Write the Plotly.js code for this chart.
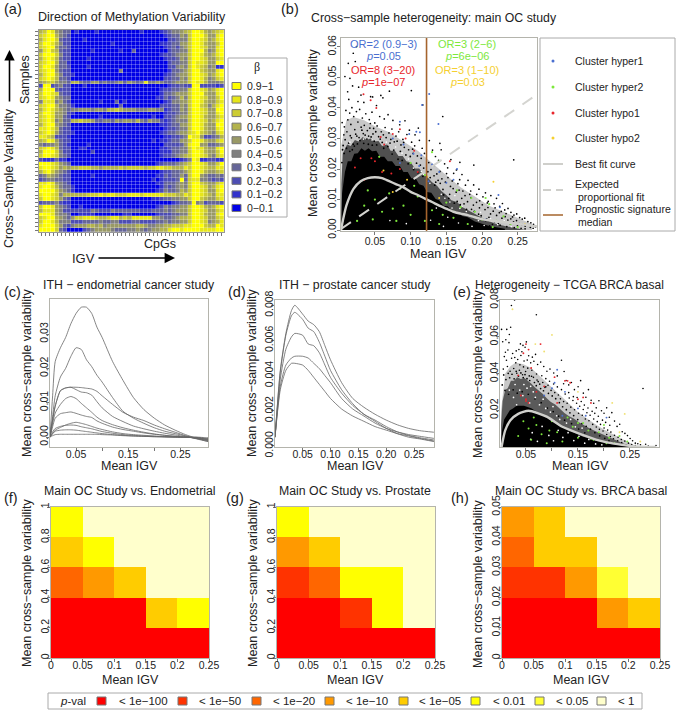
<!DOCTYPE html>
<html>
<head>
<meta charset="utf-8">
<script src="https://cdn.plot.ly/plotly-3.0.1.min.js"></script>
<style>html,body{margin:0;padding:0;background:#fff}</style>
</head>
<body>
<div id="chart" style="width:678px;height:712px"></div>
<script>
// panel (a): beta decile per cell, one string per sample, top row first
var methRows = [
"67985433 010000100000000001000012 344567 99865678",
"78996432 000000000000000000000001 233547 99975589",
"68997322 000100000000000000000000 223447 99875689",
"79986422 000000000010000000000011 233557 99865579",
"78995332 000000000000000000000001 232457 99875589",
"58976322 000001000000100300000000 233447 99964589",
"79997422 000000000000000000000012 234557 99865689",
"68986322 000010000000000000000001 223547 99875578",
"78996331 000000000000000000000000 233447 98875599",
"79985332 000010000000000000000000 224547 98764511",
"78995322 000000000000400000000000 133457 99765589",
"68996422 100000000000000000000001 234557 99875689",
"78986332 000000000000000000000002 233547 99864578",
"56775443 664335534334535434844543 345557 98864445",
"29923422 000100000000000000000000 122322 99222212",
"69993222 000000000000000000000012 233447 99875689",
"79987322 000000000000000000000013 345557 99965589",
"78985433 000000000000000000000113 234647 99875579",
"48884532 000000010003010000000001 244557 99865578",
"78996443 100000000000300000000022 233547 99764689",
"68986543 445554554667655544455441 233547 99875599",
"79985542 100000000000000000000001 223447 99875589",
"78985532 000000010000000000001002 234557 99865578",
"78984533 667665334435455464354421 234447 99875689",
"68995432 000000000000000000000011 233557 99865599",
"88986322 000000000000000000000001 223447 99865589",
"78985322 100000000000000000000012 334557 89765478",
"88762221 000000000000000000000001 122349 88522346",
"67985322 000000000000000000001011 233557 99865578",
"43445321 000010000000000000000002 222358 99553345",
"78986322 001100000000000000000011 233447 98865589",
"69997422 000002000000000000000011 133447 99865579",
"79987432 000000000000000000000012 234567 99875478",
"21113110 000000000000000000000000 000124 98112211",
"99987543 000000000000000000000123 334567 99875579",
"89987565 667776656666767777677887 766687 99876688",
"68975432 000000000000000000000012 233457 99865567",
"34654322 000001000000000000000113 233537 99543343",
"23443322 000000000000000000001012 223937 88443232",
"88985432 000000000000000000000113 334547 99765578",
"89986433 100000000000000000000013 234547 99875689",
"99997543 100000000000000000000124 334657 99875589",
"89987466 666677787887778887888887 776687 99876588",
"79987532 000000000000000000001123 344557 99765578",
"23334211 000000000000000000000000 012334 94523332",
"79985432 001000000000000000000124 344557 99865689",
"68885422 222224322243333332223334 345557 99875578",
"99985443 001111000000011000000122 233447 99865589",
"78996543 577888766788676888885543 345667 99875578",
"79986444 222333343344222332222334 344557 99874568",
"89997532 455566564555555566544556 677788 99976698",
"99997320 000234555543334454345566 899899 99888899"
];
var betaLabels = ["0.9−1","0.8−0.9","0.7−0.8","0.6−0.7","0.5−0.6","0.4−0.5","0.3−0.4","0.2−0.3","0.1−0.2","0−0.1"];
var betaColors = ["#ffff00","#e6e61a","#cccc33","#b3b34d","#999966","#808080","#666699","#4d4db3","#3333cc","#0000e6"];

// panel (b)
var bCurveX = [.0025,.005,.01,.02,.03,.04,.05,.06,.07,.08,.09,.10,.11,.12,.13,.14,.15,.16,.17,.18,.19,.20,.22,.24,.26,.277];
var bCurveY = [0,.003,.008,.0135,.016,.017,.0173,.017,.016,.015,.014,.0125,.0115,.0103,.0092,.008,.007,.006,.0054,.0049,.0042,.0036,.0029,.0024,.0018,.0012];
var bPropX = [.0025,.277];
var bPropY = [.0004,.0444];
var bMedian = .1223;
var bCoreX = [.003,.004,.008,.012,.017,.021,.026,.031,.036,.041,.046,.052,.057,.063,.068,.074,.079,.085,.09,.096,.101,.107,.112,.118,.123,.129,.135,.14,.146,.152,.158,.165,.172,.18,.19,.2,.21,.22,.232,.232,.003];
var bCoreY = [.003,.012,.019,.0225,.0225,.025,.0252,.0268,.026,.0268,.0258,.026,.024,.024,.0225,.0225,.021,.021,.019,.019,.017,.017,.015,.0145,.0125,.0122,.0102,.0098,.008,.0078,.0062,.006,.0046,.0042,.0028,.0021,.0013,.0009,.0004,0,0];
var bMidX = [.003,.005,.011,.016,.022,.027,.033,.038,.044,.049,.055,.06,.067,.072,.078,.083,.089,.094,.1,.106,.112,.118,.124,.13,.137,.143,.15,.157,.165,.172,.18,.19,.2,.21,.22,.235,.25,.26,.003];
var bMidY = [.015,.025,.028,.0275,.0295,.029,.0305,.0295,.030,.029,.0292,.0275,.028,.026,.026,.0243,.0243,.0225,.0222,.0202,.0202,.0182,.0172,.0157,.0145,.0128,.0115,.0098,.0092,.0076,.0066,.0052,.004,.0029,.002,.0012,.0005,0,0];
var bOuterX = [.003,.01,.02,.035,.05,.07,.09,.11,.13,.15,.17,.19,.21,.24,.27,.27,.003];
var bOuterY = [.028,.036,.037,.036,.034,.032,.029,.026,.022,.018,.014,.011,.008,.005,.002,0,0];
var bBlack = [[.0197,.0579],[.0243,.0601],[.0127,.0546],[.008,.0503],[.015,.0497],[.0225,.0552],[.0187,.0472],[.0272,.0468],[.0118,.0453],[.0134,.0428],[.0263,.0421],[.0305,.0442],[.0345,.0418],[.044,.0437],[.0468,.0436],[.0522,.0408],[.0583,.0441],[.0612,.0433],[.0703,.0455],[.101,.0457],[.117,.041],[.145,.0372],[.141,.0284],[.169,.0222],[.1885,.0213],[.2444,.023],[.0094,.0392],[.0147,.0383],[.0178,.0401],[.0203,.0372],[.0241,.0388],[.0286,.0395],[.0324,.0367],[.0372,.0381],[.0421,.0362],[.0459,.0386],[.0498,.0351],[.0567,.0372],[.0631,.0364],[.0684,.0378],[.0752,.0359],[.0847,.0345],[.0921,.0358],[.0983,.0327],[.1062,.0312],[.1108,.0334],[.0041,.0352],[.0072,.0338],[.0121,.0361],[.0163,.0346],[.0218,.0329],[.0262,.0354],[.0307,.0337],[.0351,.0343],[.0394,.0326],[.0436,.0349],[.0482,.0333],[.0531,.0341],[.0589,.0322],[.0643,.0336],[.0697,.0318],[.0738,.0331],[.0795,.0308],[.0833,.0322],[.0892,.0297],[.0948,.0313],[.1014,.0288],[.1057,.0276],[.1123,.0294],[.1162,.0268],[.1194,.0251],[.0065,.0312],[.0108,.0322],[.0155,.0309],[.0231,.0314],[.0278,.0303],[.0337,.0316],[.0412,.0308],[.0473,.0315],[.0552,.0306],[.0618,.0312],[.0723,.0297],[.0771,.0289],[.0865,.0279],[.0912,.0271],[.0972,.0263],[.1035,.0251],[.1095,.0243],[.1148,.0235],
[.1262,.0293],[.1307,.0262],[.1348,.0241],[.1392,.0228],[.1428,.0263],[.1476,.0217],[.1519,.0204],[.1564,.0231],[.1603,.0186],[.1642,.0197],[.1687,.0165],[.1719,.0182],[.1768,.0147],[.1804,.0163],[.1841,.0128],[.1883,.0148],[.1926,.0117],[.1957,.0134],[.2013,.0109],[.2048,.0122],[.2087,.0094],[.2124,.0113],[.2168,.0086],[.2203,.0104],[.2247,.0078],[.2286,.0087],[.2318,.0066],[.2364,.0071],[.2405,.0058],[.2447,.0049],[.2486,.0053],[.2527,.0041],[.2563,.0036],[.2598,.0039],[.2642,.0028],[.2684,.0024],[.2721,.0019],[.2752,.0012],
[.1254,.0221],[.1285,.0198],[.1326,.0212],[.1367,.0184],[.1411,.0192],[.1438,.0168],[.1487,.0157],[.1523,.0172],[.1558,.0143],[.1596,.0136],[.1638,.0124],[.1679,.0131],[.1716,.0104],[.1762,.0113],[.1797,.0093],[.1846,.0106],[.1879,.0082],[.1923,.0091],[.1964,.0073],[.2004,.0083],[.2042,.0067],[.2083,.0074],[.2119,.0053],[.2157,.0062],[.2204,.0048],[.2243,.0057],[.2279,.0039],[.2324,.0044],[.2362,.0033],[.2403,.0037],[.2441,.0027],[.2483,.0031],[.2522,.0021],[.2558,.0019],[.2604,.0013],[.2638,.0016],[.2677,.0009],[.2716,.0006],[.2748,.0011],
[.2052,.0031],[.2097,.0042],[.2146,.0019],[.2192,.0029],[.2253,.0016],[.2298,.0026],[.2347,.0011],[.2396,.0021],[.2452,.0008],[.2496,.0014],[.2547,.0006],[.2603,.0004],[.1952,.0052],[.1853,.0068],[.1748,.0086],[.1652,.0094],[.1547,.0117],[.1453,.0133],[.1352,.0157],[.2107,.0014],[.2003,.0006],[.1908,.0018],[.1503,.0185],[.1415,.0153],[.1732,.0128],[.1828,.0117],[.1967,.0096],[.2074,.0089],[.2183,.0073],[.2269,.0061],[.2337,.0054],[.2427,.0043],[.1662,.0152],[.1583,.0161],[.1328,.0178]];
var bEdge = [[.0055,.0277],[.0083,.0296],[.0132,.0285],[.0171,.0302],[.0196,.0281],[.0247,.0308],[.0291,.0293],[.0318,.0327],[.0363,.0311],[.0388,.0298],[.0429,.0334],[.0447,.0305],[.0491,.0291],[.0512,.0322],[.0574,.0298],[.0602,.0287],[.0657,.0303],[.0681,.0274],[.0712,.0285],[.0764,.0262],[.0811,.0291],[.0856,.0258],[.0903,.0287],[.0934,.0246],[.0995,.0241],[.1028,.0265],[.1083,.0219],[.1136,.0213],[.1183,.0203],[.1241,.0191],[.1274,.0172],[.1338,.0147],[.1385,.0163],[.1462,.0115],[.1534,.0104],[.1612,.0088],[.1695,.0083],[.1783,.0068],[.1892,.0061],[.1988,.0047],[.2066,.0036],[.2173,.0028],[.2228,.0021],
[.0038,.0221],[.0047,.0263],[.0069,.0251],[.0102,.0268],[.0148,.0258],[.0183,.0263],[.0212,.0275],[.0255,.0282],[.0343,.0284],[.0408,.0281],[.0463,.0278],[.0525,.0279],[.0623,.0268],[.0741,.0249],[.0824,.0232],[.0882,.0228],[.0965,.0217],[.1042,.0198],[.1103,.0188],[.1172,.0176]];
var bWhite = [[.152,.0042],[.167,.0023],[.178,.0061],[.186,.0012],[.195,.0031],[.203,.0015],[.212,.0037],[.222,.0018],[.231,.0031],[.241,.0011],[.158,.0072],[.172,.0078],[.185,.0045],[.198,.0058],[.214,.0029],[.146,.0012],[.128,.0032],[.136,.0072],[.148,.0104],[.162,.0113],[.104,.0203],[.118,.0182],[.097,.0233],[.071,.0031],[.094,.0021],[.015,.0288],[.034,.0298],[.046,.0295],[.066,.0288],[.079,.0272],[.088,.0252],[.115,.0192],[.127,.0153],[.143,.0117],[.155,.0092],[.169,.0071]];
var bBlue = [[.126,.0446],[.116,.041],[.139,.0347],[.108,.0322],[.098,.0315],[.085,.0355],[.113,.032],[.075,.03],[.09,.028],[.104,.025],[.115,.0245],[.13,.0215],[.14,.019],[.15,.0155],[.16,.0165],[.112,.021],[.085,.022],[.223,.0115],[.225,.0075],[.205,.0035],[.165,.02],[.125,.016]];
var bGreen = [[.13,.0255],[.14,.0225],[.1,.022],[.12,.018],[.085,.0135],[.04,.013],[.035,.008],[.05,.01],[.06,.006],[.07,.012],[.08,.003],[.09,.008],[.1,.005],[.11,.011],[.12,.003],[.13,.0065],[.14,.002],[.15,.009],[.16,.004],[.17,.0075],[.18,.002],[.19,.006],[.2,.0035],[.21,.0085],[.22,.003],[.23,.0045],[.24,.002],[.25,.001],[.025,.003],[.047,.0035],[.075,.007],[.105,.0145],[.165,.013],[.185,.0105],[.205,.0105],[.215,.001],[.056,.024],[.16,.006],[.145,.005]];
var bRed = [[.034,.0445],[.044,.0425],[.052,.04],[.03,.0235],[.045,.0235],[.05,.0225],[.075,.0315],[.085,.033],[.093,.03],[.058,.0305],[.063,.028],[.022,.0205],[.073,.0185],[.085,.02],[.105,.026],[.155,.0225],[.035,.0165],[.11,.019],[.06,.019]];
var bYellow = [[.216,.0158],[.062,.0195],[.26,.002],[.123,.0175],[.075,.0125],[.14,.0105],[.095,.0165]];

// panel (c): intra-tumour curves on a shared x grid
var cX = [0,.005,.01,.02,.03,.04,.05,.06,.07,.08,.09,.10,.12,.14,.16,.18,.20,.22,.24,.26,.28,.30,.303];
var cCurves = [
[0,.012,.022,.026,.029,.033,.036,.0378,.0378,.036,.032,.029,.022,.0165,.0115,.008,.0055,.0035,.002,.0007,-.0003,-.0012,-.0013],
[0,.006,.012,.0175,.02,.0235,.026,.0255,.0225,.0205,.018,.016,.0115,.0075,.0055,.004,.0027,.0017,.001,.0003,-.0004,-.001,-.0011],
[0,.005,.009,.0135,.0143,.0145,.0145,.0144,.0142,.014,.0133,.012,.0095,.0072,.0058,.0048,.0035,.0024,.0014,.0004,-.0005,-.0012,-.0013],
[0,.005,.009,.0135,.0143,.0145,.0138,.0131,.0129,.0122,.0103,.0085,.006,.0045,.0032,.0024,.0017,.0011,.0006,.0001,-.0004,-.0009,-.001],
[0,.004,.007,.0095,.0112,.0118,.0112,.0098,.0085,.0072,.0058,.0048,.0036,.0027,.002,.0014,.0009,.0005,.0002,0,-.0003,-.0008,-.0009],
[0,.003,.0055,.0068,.0071,.0073,.0069,.0064,.006,.0057,.0047,.004,.0029,.0022,.0017,.0012,.0008,.0005,.0002,0,-.0002,-.0007,-.0008],
[0,.001,.002,.0028,.0035,.004,.0043,.004,.0036,.0031,.0026,.0022,.0015,.001,.0007,.0005,.0003,.0001,0,-.0001,-.0002,-.0006,-.0007],
[0,.0015,.0025,.0031,.0034,.0035,.0034,.003,.0027,.0024,.002,.0016,.0011,.0007,.0005,.0003,.0002,.0001,0,-.0001,-.0002,-.0005,-.0005],
[0,.001,.0017,.002,.0021,.0021,.002,.0018,.0016,.0014,.0012,.001,.0007,.0005,.0003,.0002,.0001,0,0,-.0001,-.0001,-.0004,-.0004],
[0,.0004,.0007,.0008,.0008,.0008,.0008,.0008,.0008,.0008,.0008,.0007,.0006,.0004,.0003,.0002,.0001,.0001,0,0,0,-.0002,-.0002]
];

// panel (d)
var dX = [.0005,.01,.02,.03,.036,.05,.06,.07,.08,.09,.10,.12,.14,.16,.18,.20,.22,.24,.26,.2855];
var dCurves = [
[.0005,.0043,.0064,.0077,.008,.0075,.0071,.0069,.0065,.0057,.0049,.0036,.0027,.0022,.0018,.00147,.0012,.001,.00087,.00078],
[.0005,.0042,.0063,.0074,.0076,.0072,.0067,.0065,.0059,.0051,.0043,.0032,.0024,.0018,.00147,.0011,.0008,.0006,.00047,.00034],
[.0005,.0038,.0055,.0062,.0064,.0063,.0058,.0057,.0053,.0046,.0039,.003,.0023,.0018,.0014,.001,.0007,.0005,.0004,.00025],
[.0005,.0034,.0046,.005,.0051,.0051,.005,.0047,.0044,.004,.0036,.0027,.0021,.0017,.0013,.001,.0008,.00065,.00055,.00043],
[.0005,.0032,.0043,.0047,.0047,.0046,.0043,.0039,.0035,.0031,.0027,.0021,.0017,.0014,.0011,.0009,.0007,.00057,.00043,.00028]
];

// panel (e)
var eCurveX = [.003,.01,.02,.035,.055,.09,.12,.16,.19,.22,.255,.30];
var eCurveY = [0,.009,.0145,.018,.0197,.0165,.011,.0065,.0036,.0018,.0005,0];
var eCoreX = [.002,.004,.008,.013,.019,.025,.032,.039,.046,.053,.061,.069,.077,.085,.093,.102,.111,.12,.13,.14,.15,.16,.172,.185,.2,.215,.235,.25,.25,.002];
var eCoreY = [.002,.009,.015,.0175,.02,.021,.0225,.0225,.0225,.0218,.021,.0195,.018,.0165,.015,.0135,.012,.0108,.0095,.0082,.007,.0056,.0048,.0034,.0026,.0015,.0008,.0003,0,0];
var eMidX = [.002,.005,.01,.015,.021,.027,.033,.04,.047,.054,.06,.067,.074,.082,.09,.098,.107,.115,.124,.133,.142,.152,.162,.172,.183,.195,.208,.222,.24,.26,.002];
var eMidY = [.012,.025,.031,.032,.036,.036,.038,.037,.0375,.036,.0345,.0325,.031,.029,.0265,.0245,.023,.021,.0185,.0168,.0155,.0135,.0118,.0102,.0087,.0072,.0052,.0036,.0016,0,0];
var eOuterX = [.002,.01,.02,.03,.045,.06,.075,.09,.105,.12,.135,.15,.165,.18,.2,.22,.24,.265,.002];
var eOuterY = [.02,.04,.044,.046,.045,.043,.039,.035,.031,.027,.023,.019,.016,.013,.0095,.0065,.0035,0,0];
var eBlack = [[.022,.077],[.028,.08],[.07,.072],[.003,.064],[.013,.064],[.0205,.0652],[.018,.0612],[.0052,.0573],[.0112,.0584],[.0173,.0568],[.0393,.0561],[.0442,.0553],[.0507,.0572],[.0312,.0523],[.0364,.0531],[.0421,.0518],[.0483,.0543],[.0552,.0497],[.0623,.0489],[.0684,.0504],[.0104,.0516],[.0152,.0528],[.0243,.0509],[.0284,.0487],[.0083,.0492],[.0341,.0476],[.0402,.0498],[.0463,.0468],[.0524,.0473],[.0591,.0458],[.0652,.0467],[.0724,.0449],[.0783,.0462],[.0842,.0438],[.0903,.0412],[.0962,.0424],[.1034,.0403],[.1102,.0387],[.1183,.0472],[.1234,.0411],[.1272,.0362],[.1323,.0338],[.1374,.0351],[.1432,.0312],[.1503,.0328],[.1552,.0361],[.1604,.0293],[.1653,.0271],[.1702,.0312],[.1754,.0254],[.1803,.0238],[.1852,.0213],[.1904,.0252],[.1953,.0197],[.2002,.0184],[.2053,.0213],[.2104,.0162],[.2152,.0187],[.2204,.0141],[.2253,.0112],[.2304,.0124],[.2352,.0083],[.2404,.0074],[.2453,.0062],[.2504,.0046],[.2552,.0034],[.2604,.0021],[.2652,.0018],[.2703,.0012],[.2752,.0318],[.2854,.0005],[.3002,.0008],[.2803,.0015],
[.0124,.0472],[.0223,.0483],[.0304,.0458],[.0383,.0447],[.0452,.0436],[.0534,.0429],[.0613,.0418],[.0703,.0397],[.0804,.0388],[.0882,.0372],[.0953,.0358],[.1032,.0343],[.1104,.0327],[.1183,.0312],[.1254,.0288],[.1332,.0267],[.1403,.0253],[.1474,.0238],[.1534,.0222],[.1602,.0204],[.1673,.0186],[.1734,.0173],[.1803,.0152],[.1872,.0138],[.1934,.0123],[.2003,.0103],[.2072,.0092],[.2134,.0081],[.2203,.0064],[.2272,.0053],[.2334,.0041],[.2403,.0032],[.2472,.0021],[.2534,.0014],[.2603,.0008],
[.0063,.0424],[.0143,.0438],[.0194,.0412],[.0264,.0427],[.0323,.0401],[.0373,.0418],[.0434,.0393],[.0493,.0411],[.0563,.0387],[.0644,.0379],[.0713,.0364],[.0764,.0342],[.0823,.0351],[.0864,.0324],[.0924,.0336],[.0983,.0308],[.1054,.0296],[.1123,.0283],[.1163,.0262],[.1224,.0247],[.1292,.0238],[.1363,.0217],[.1434,.0203],[.1512,.0184],[.1583,.0173],[.1643,.0152],[.1712,.0143],[.1784,.0123],[.1853,.0109],[.1913,.0096],[.1983,.0087],[.2054,.0068],[.2124,.0057],[.2183,.0045],[.2264,.0034],[.2343,.0024],[.2424,.0012],[.1224,.0344],[.1322,.0296],[.1412,.0274],[.1484,.0269],[.1563,.0248],[.1623,.0228],[.1693,.0212],[.1773,.0194],[.1824,.0183],[.1892,.0167],[.1972,.0146],[.2033,.0134],[.2113,.0118]];
var eEdge = [[.0043,.0338],[.0072,.0392],[.0114,.0367],[.0158,.0401],[.0186,.0377],[.0231,.0396],[.0272,.0371],[.0312,.0412],[.0356,.0386],[.0402,.0403],[.0447,.0378],[.0481,.0394],[.0519,.0372],[.0572,.0362],[.0608,.0385],[.0663,.0351],[.0698,.0334],[.0735,.0356],[.0782,.0318],[.0837,.0306],[.0881,.0328],[.0932,.0292],[.1005,.0278],[.1072,.0263],[.1142,.0241],[.1205,.0219],[.1277,.0203],[.1346,.0186],[.1418,.0171],[.1496,.0149],[.1577,.0128],[.1659,.0113],[.1741,.0097],[.1826,.0078],[.1918,.0061],[.2016,.0047],[.2097,.0033],[.2178,.0022],[.0096,.0308],[.0165,.0287],[.0253,.0311],[.0332,.0293],[.0427,.0301],[.0544,.0287],[.0674,.0262],[.0793,.0241],[.0911,.0212],[.1024,.0193],[.1128,.0168],[.1243,.0146],[.1377,.0127],[.1514,.0098],[.1632,.0077]];
var eWhite = [[.059,.0042],[.062,.0078],[.072,.0031],[.081,.0112],[.094,.0063],[.103,.0034],[.112,.0091],[.121,.0052],[.131,.0078],[.142,.0035],[.152,.0058],[.163,.0021],[.171,.0041],[.184,.0017],[.196,.0012],[.032,.023],[.044,.028],[.057,.024],[.068,.027],[.076,.023],[.088,.021],[.097,.019],[.109,.017],[.026,.027],[.038,.031],[.052,.032],[.064,.03],[.115,.015],[.128,.013],[.145,.011],[.018,.031],[.029,.034],[.046,.034],[.059,.033],[.083,.026],[.102,.022],[.136,.015],[.158,.0103]];
var eRed = [[.05,.056],[.078,.056],[.055,.053],[.045,.051],[.06,.043],[.035,.039],[.05,.026],[.05,.025],[.055,.024],[.04,.028],[.105,.038],[.125,.036],[.13,.036],[.135,.035],[.15,.026],[.16,.027],[.175,.024],[.11,.024],[.07,.03],[.085,.033]];
var eGreen = [[.055,.01],[.06,.004],[.07,.012],[.08,.007],[.09,.002],[.1,.014],[.11,.008],[.12,.003],[.13,.016],[.14,.011],[.15,.005],[.16,.013],[.17,.009],[.18,.004],[.19,.008],[.2,.012],[.21,.005],[.22,.002],[.23,.006],[.245,.003],[.205,.002],[.035,.006],[.045,.014],[.065,.016],[.095,.009],[.15,.013],[.175,.0045]];
var eBlue = [[.11,.042],[.105,.035],[.1,.032],[.125,.03],[.15,.021],[.165,.017],[.12,.017],[.205,.016],[.085,.028]];
var eYellow = [[.024,.075],[.1,.061],[.068,.056],[.085,.052],[.216,.024],[.24,.018],[.23,.008],[.27,.003],[.15,.03]];

// panels (f), (g), (h): p-value class per bin, lowest row first
var pvalLabels = ["< 1e−100","< 1e−50","< 1e−20","< 1e−10","< 1e−05","< 0.01","< 0.05","< 1"];
var pvalColors = ["#ff0000","#ff3300","#ff6600","#ff9900","#ffcc00","#ffff00","#ffff33","#ffffcc"];
var igvEdges = [0,.05,.1,.15,.2,.25];
var unitEdges = [0,.2,.4,.6,.8,1];
var brcaEdges = [0,.01,.02,.03,.04,.05];
var endoBins = [[0,0,0,0,0],[0,0,0,4,5],[2,3,4,7,7],[4,5,7,7,7],[5,7,7,7,7]];
var prosBins = [[0,0,0,0,0],[0,0,1,5,7],[1,2,5,5,7],[3,4,7,7,7],[5,7,7,7,7]];
var brcaBins = [[0,0,0,0,0],[0,0,0,3,4],[1,1,3,6,7],[2,4,4,7,7],[3,4,7,7,7]];

var W = 678, H = 712;
var FONT = "Liberation Sans, Arial, sans-serif";
var INK = "#222";
var FRAME = "#b4b4ac";

function col(a, i) { return a.map(function (p) { return p[i]; }); }
function stepScale(colors) {
  var out = [], n = colors.length;
  colors.forEach(function (c, i) { out.push([i / n, c]); out.push([(i + 1) / n, c]); });
  return out;
}

// pixel box to axis pair
function xAxis(left, right, range, vals, text, extra) {
  return Object.assign({
    domain: [left / W, right / W], range: range, tickmode: "array", tickvals: vals, ticktext: text,
    ticks: "outside", ticklen: 3, tickcolor: "#777", tickwidth: 1, showgrid: false, zeroline: false,
    showline: true, mirror: true, linecolor: FRAME, linewidth: 1, ticklabelstandoff: -6,
    tickfont: { family: FONT, size: 10.5, color: INK }
  }, extra || {});
}
function yAxis(top, bottom, range, vals, text, extra) {
  return Object.assign({
    domain: [1 - bottom / H, 1 - top / H], range: range, tickmode: "array", tickvals: vals, ticktext: text,
    ticks: "outside", ticklen: 3, tickcolor: "#777", tickwidth: 1, showgrid: false, zeroline: false,
    showline: true, mirror: true, linecolor: FRAME, linewidth: 1, tickangle: -90, ticklabelstandoff: -6,
    tickfont: { family: FONT, size: 10.5, color: INK }
  }, extra || {});
}

var traces = [];
function line(ax, x, y, color, width, dash) {
  traces.push({ type: "scatter", mode: "lines", x: x, y: y, xaxis: "x" + ax, yaxis: "y" + ax, hoverinfo: "skip",
    line: { color: color, width: width, dash: dash || "solid", shape: "spline", smoothing: 0.6 } });
}
function blob(ax, x, y, fill) {
  traces.push({ type: "scatter", mode: "lines", x: x, y: y, xaxis: "x" + ax, yaxis: "y" + ax, hoverinfo: "skip",
    fill: "toself", fillcolor: fill, line: { width: 0 } });
}
function dots(ax, pts, color, size) {
  traces.push({ type: "scatter", mode: "markers", x: col(pts, 0), y: col(pts, 1), xaxis: "x" + ax, yaxis: "y" + ax,
    hoverinfo: "skip", marker: { color: color, size: size } });
}
function bins(ax, xe, ye, z) {
  traces.push({ type: "heatmap", x: xe, y: ye, z: z, xaxis: "x" + ax, yaxis: "y" + ax, zmin: -0.5, zmax: 7.5,
    colorscale: stepScale(pvalColors), showscale: false, hoverinfo: "skip" });
}

// (a)
var methZ = methRows.map(function (r) { return r.replace(/ /g, "").split("").map(Number); });
var methCols = methZ[0].map(function (v, i) { return i; });
var methSamples = methZ.map(function (v, i) { return i; });
traces.push({ type: "heatmap", z: methZ, x: methCols, y: methSamples, xaxis: "x", yaxis: "y", zmin: -0.5, zmax: 9.5,
  colorscale: stepScale(betaColors.slice().reverse()), showscale: false, hoverinfo: "skip", xgap: 0.25, ygap: 0.25 });

// (b)
blob(2, bOuterX, bOuterY, "rgba(0,0,0,0.22)");
blob(2, bMidX, bMidY, "rgba(0,0,0,0.6)");
blob(2, bCoreX, bCoreY, "#000");
dots(2, bBlack, "#000", 1.7);
dots(2, bEdge, "#000", 1.8);
dots(2, bWhite, "#fff", 1.6);
dots(2, bGreen, "#7de83c", 2.2);
dots(2, bBlue, "#4a6fd0", 2);
dots(2, bRed, "#e8262c", 2);
dots(2, bYellow, "#f5d030", 2);
line(2, bPropX, bPropY, "#d4d4d0", 2, "12px,10px");
line(2, bCurveX, bCurveY, "#cfcfcb", 2.4);
line(2, [bMedian, bMedian], [-.001, .065], "#a5642d", 1.6);

// (c), (d)
cCurves.forEach(function (y) { line(3, cX, y, "#666", 0.8); });
dCurves.forEach(function (y) { line(4, dX, y, "#666", 0.8); });

// (e)
blob(5, eOuterX, eOuterY, "rgba(0,0,0,0.22)");
blob(5, eMidX, eMidY, "rgba(0,0,0,0.55)");
blob(5, eCoreX, eCoreY, "#000");
dots(5, eBlack, "#000", 1.6);
dots(5, eEdge, "#000", 1.7);
dots(5, eWhite, "#fff", 1.7);
dots(5, eGreen, "#7de83c", 2);
dots(5, eRed, "#e8262c", 1.9);
dots(5, eBlue, "#4a6fd0", 1.9);
dots(5, eYellow, "#f0e070", 1.9);
line(5, eCurveX, eCurveY, "#cfcfcb", 2.4);

// (f)-(h)
bins(6, igvEdges, unitEdges, endoBins);
bins(7, igvEdges, unitEdges, prosBins);
bins(8, igvEdges, brcaEdges, brcaBins);

var igv5 = [.05, .1, .15, .2, .25];
var igvSkip = [.05, .1, .15, .2, .25];
var igvSkipText = ["0.05", "", "0.15", "", "0.25"];
var binTicks = ["0", "0.05", "0.1", "0.15", "0.2", "0.25"];
var unitTicks = ["0", "0.2", "0.4", "0.6", "0.8", "1"];
var brcaTicks = ["0", "0.01", "0.02", "0.03", "0.04", "0.05"];

var layout = {
  width: W, height: H, margin: { l: 0, r: 0, t: 0, b: 0 }, showlegend: false,
  paper_bgcolor: "#fff", plot_bgcolor: "#fff", font: { family: FONT, color: INK },
  xaxis: xAxis(39, 224, [-0.5, 45.5], methCols, methCols.map(function () { return ""; }), { ticklen: 3, linecolor: "#999" }),
  yaxis: yAxis(30, 232, [methRows.length - 0.5, -0.5], methSamples, methSamples.map(function () { return ""; }), { ticklen: 3, linecolor: "#999" }),
  xaxis2: xAxis(341, 537, [.0025, .277], igv5, ["0.05", "0.10", "0.15", "0.20", "0.25"], { anchor: "y2", ticklabelstandoff: -3 }),
  yaxis2: yAxis(38, 231, [-.0003, .0629], [0, .01, .02, .03, .04, .05, .06], ["0.00", "0.01", "0.02", "0.03", "0.04", "0.05", "0.06"], { anchor: "x2", ticklabelstandoff: -3 }),
  xaxis3: xAxis(50, 208, [0, .303], igvSkip, igvSkipText, { anchor: "y3" }),
  yaxis3: yAxis(299, 447, [-.0029, .0402], [0, .01, .02, .03], ["0.00", "0.01", "0.02", "0.03"], { anchor: "x3" }),
  xaxis4: xAxis(275, 434, [.0005, .2857], igv5, ["0.05", "0.10", "0.15", "0.20", "0.25"], { anchor: "y4" }),
  yaxis4: yAxis(300, 447, [-.00006, .0083], [0, .002, .004, .006, .008], ["0.000", "0.002", "0.004", "0.006", "0.008"], { anchor: "x4" }),
  xaxis5: xAxis(500, 659, [0, .306], igvSkip, igvSkipText, { anchor: "y5" }),
  yaxis5: yAxis(300, 447, [0, .08], [.02, .04, .06, .08], ["0.02", "0.04", "0.06", "0.08"], { anchor: "x5" }),
  xaxis6: xAxis(51, 209, [0, .25], igvEdges, binTicks, { anchor: "y6" }),
  yaxis6: yAxis(507, 658, [0, 1], unitEdges, unitTicks, { anchor: "x6" }),
  xaxis7: xAxis(277, 435, [0, .25], igvEdges, binTicks, { anchor: "y7" }),
  yaxis7: yAxis(507, 658, [0, 1], unitEdges, unitTicks, { anchor: "x7" }),
  xaxis8: xAxis(502, 660, [0, .25], igvEdges, binTicks, { anchor: "y8" }),
  yaxis8: yAxis(507, 658, [0, .05], brcaEdges, brcaTicks, { anchor: "x8" }),
  annotations: [], shapes: []
};

function label(x, y, text, size, opts) {
  layout.annotations.push(Object.assign({
    xref: "paper", yref: "paper", x: x / W, y: 1 - y / H, text: text, showarrow: false,
    xanchor: "center", yanchor: "middle", font: { family: FONT, size: size, color: INK }
  }, opts || {}));
}
function box(x0, y0, x1, y1, fill, stroke) {
  layout.shapes.push({ type: "rect", xref: "paper", yref: "paper", x0: x0 / W, x1: x1 / W, y0: 1 - y0 / H, y1: 1 - y1 / H,
    fillcolor: fill, line: { color: stroke, width: 1 } });
}
function rule(x0, x1, y, color, width, dash) {
  layout.shapes.push({ type: "line", xref: "paper", yref: "paper", x0: x0 / W, x1: x1 / W, y0: 1 - y / H, y1: 1 - y / H,
    line: { color: color, width: width, dash: dash || "solid" } });
}

// panel tags
[["(a)", 2, 9], ["(b)", 279, 9], ["(c)", 2, 292], ["(d)", 226, 292], ["(e)", 451, 292], ["(f)", 2, 498], ["(g)", 224, 498], ["(h)", 449, 498]].forEach(function (t) {
  label(t[1], t[2], t[0], 14.5, { xanchor: "left" });
});

// titles
label(132, 17, "Direction of Methylation Variability", 12.5);
label(434, 18, "Cross−sample heterogeneity: main OC study", 12.3);
label(129, 285, "ITH − endometrial cancer study", 12.3);
label(355, 285, "ITH − prostate cancer study", 12.3);
label(569, 285, "Heterogeneity − TCGA BRCA basal", 12);
label(130, 491, "Main OC Study vs. Endometrial", 12.3);
label(355, 491, "Main OC Study vs. Prostate", 12.3);
label(581, 491, "Main OC Study vs. BRCA basal", 12.3);

// axis titles
[[438, 254], [129, 466], [355, 466], [580, 466], [130, 680], [355, 680], [581, 680]].forEach(function (p) {
  label(p[0], p[1], "Mean IGV", 12.5);
});
[[313, 133], [27, 373], [252, 373], [478, 373], [27, 583], [253, 583], [478, 583]].forEach(function (p) {
  label(p[0], p[1], "Mean cross−sample variability", 12.5, { textangle: -90 });
});

// (a) side text and arrows
label(25, 80, "Samples", 12.5, { textangle: -90 });
label(9, 178, "Cross−Sample Variability", 12.5, { textangle: -90 });
label(83, 258, "IGV", 13);
label(160, 244, "CpGs", 12.5);
function arrow(x, y, ax, ay) {
  layout.annotations.push({ xref: "paper", yref: "paper", x: x / W, y: 1 - y / H, axref: "pixel", ayref: "pixel", ax: ax, ay: ay,
    text: "", showarrow: true, arrowhead: 2, arrowsize: 1.3, arrowwidth: 1.6, arrowcolor: "#000" });
}
arrow(9.5, 50, 0, 53);
arrow(175, 258, -78, 0);

// (a) colour key
box(228, 58, 287, 217, "#fff", "#aaa");
label(257, 67, "β", 12, { font: { family: "Liberation Serif, serif", size: 12, color: INK } });
betaLabels.forEach(function (t, i) {
  var y = 86 + i * 13.55;
  box(232, y - 3.5, 241, y + 3.5, betaColors[i], "#777");
  label(245, y, t, 10.5, { xanchor: "left" });
});

// (b) key
box(540, 38, 675, 231, "#fff", "#aaa");
[["Cluster hyper1", "#4a6fd0", 61], ["Cluster hyper2", "#7de83c", 87], ["Cluster hypo1", "#e8262c", 113], ["Cluster hypo2", "#f5d030", 138]].forEach(function (k) {
  layout.shapes.push({ type: "circle", xref: "paper", yref: "paper", x0: 551.5 / W, x1: 554.5 / W, y0: 1 - (k[2] + 1.5) / H, y1: 1 - (k[2] - 1.5) / H,
    fillcolor: k[1], line: { width: 0 } });
  label(573, k[2], k[0], 10.5, { xanchor: "left" });
});
rule(543, 563, 164, "#cfcfcb", 2);
rule(543, 563, 190, "#cfcfcb", 2, "8px,5px");
rule(543, 563, 215, "#a5642d", 1.5);
label(573, 164, "Best fit curve", 10.5, { xanchor: "left" });
label(573, 184, "Expected", 10.5, { xanchor: "left" });
label(576, 197, "proportional fit", 10.5, { xanchor: "left" });
label(573, 209, "Prognostic signature", 10.5, { xanchor: "left" });
label(576, 222, "median", 10.5, { xanchor: "left" });

// (b) odds ratio text
var orBlue = "#4a6fd0", orGreen = "#7de83c", orRed = "#e8262c", orYellow = "#f5cf30";
[["OR=2 (0.9−3)", 383, 44, orBlue], ["<i>p</i>=0.05", 383, 56, orBlue], ["OR=8 (3−20)", 383, 70, orRed], ["<i>p</i>=1e−07", 383, 82, orRed],
 ["OR=3 (2−6)", 467, 44, orGreen], ["<i>p</i>=6e−06", 467, 56, orGreen], ["OR=3 (1−10)", 467, 70, orYellow], ["<i>p</i>=0.03", 467, 82, orYellow]].forEach(function (t) {
  label(t[1], t[2], t[0], 11, { font: { family: FONT, size: 11, color: t[3] } });
});

// p-value key
box(48, 693, 642, 709, "#fff", "#aaa");
label(58, 701, "<i>p</i>-val", 11.5, { xanchor: "left" });
var swatchX = [97, 178, 252, 325, 399, 471, 535, 597];
var pvalTextX = [117, 197, 271, 344, 417, 491, 554, 616];
pvalLabels.forEach(function (t, i) {
  box(swatchX[i], 697, swatchX[i] + 9, 705, pvalColors[i], "#777");
  label(pvalTextX[i], 701, t, 11.5, { xanchor: "left" });
});

Plotly.newPlot("chart", traces, layout, { displayModeBar: false, staticPlot: true });
</script>
</body>
</html>
